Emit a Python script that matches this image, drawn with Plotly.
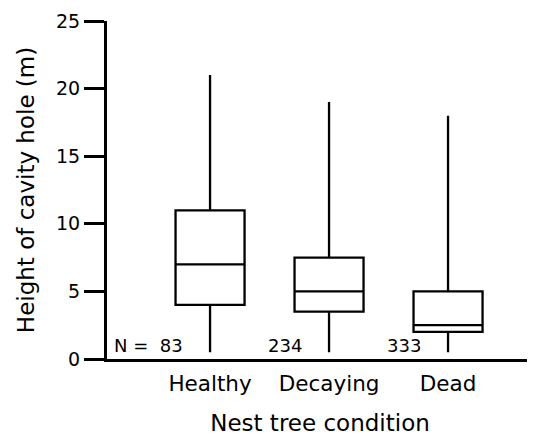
import plotly.graph_objects as go

categories = ["Healthy", "Decaying", "Dead"]
lower_whisker = [0.5, 0.5, 0.5]
q1_values = [4.0, 3.5, 2.0]
median_values = [7.0, 5.0, 2.5]
q3_values = [11.0, 7.5, 5.0]
upper_whisker = [21.0, 19.0, 18.0]
n_labels = ["N =  83", "234", "333"]
y_ticks = [0, 5, 10, 15, 20, 25]

FONT = "DejaVu Sans"
OFF = 8  # page body margin offset

fig = go.Figure()
fig.add_trace(go.Box(
    x=categories,
    q1=q1_values,
    median=median_values,
    q3=q3_values,
    lowerfence=lower_whisker,
    upperfence=upper_whisker,
    fillcolor="white",
    line=dict(color="black", width=2.3),
    whiskerwidth=0,
    width=0.58,
    boxpoints=False,
    showlegend=False,
    hoverinfo="skip",
))

for i, lab in enumerate(n_labels):
    fig.add_annotation(
        x=i - 0.21, y=1.03, xref="x", yref="y",
        text=lab, showarrow=False, xanchor="right", yanchor="middle",
        font=dict(family=FONT, size=18, color="black"),
    )

fig.update_layout(
    width=535 - OFF, height=436 - OFF,
    margin=dict(l=107 - OFF, r=2, t=20 - OFF, b=75),
    paper_bgcolor="white", plot_bgcolor="white",
    font=dict(family=FONT, color="black"),
    xaxis=dict(
        type="category",
        categoryorder="array", categoryarray=categories,
        range=[-0.866, 2.714],
        showline=True, linecolor="black", linewidth=3,
        ticks="outside", ticklen=3, tickcolor="rgba(0,0,0,0)",
        showgrid=False, zeroline=False,
        tickfont=dict(size=21.5),
        title=dict(text="Nest tree condition", font=dict(size=23), standoff=22),
    ),
    yaxis=dict(
        range=[0, 25],
        tickvals=y_ticks,
        showline=True, linecolor="black", linewidth=3,
        ticks="outside", ticklen=20, tickwidth=3, tickcolor="black",
        showgrid=False, zeroline=False,
        tickfont=dict(size=19),
        title=dict(text="Height of cavity hole (m)", font=dict(size=23), standoff=15),
    ),
)

fig.write_html("out.html")
